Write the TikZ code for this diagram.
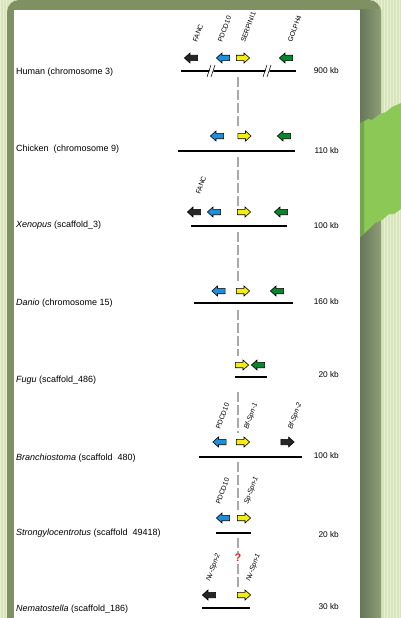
\documentclass[tikz,border=0pt]{standalone}
\usepackage{fontspec}
\setmainfont{Liberation Sans}
\usetikzlibrary{shapes.arrows}

\definecolor{paper}{HTML}{D8E5BB}
\definecolor{weave}{HTML}{E7F0D4}
\definecolor{olive}{HTML}{7F9163}
\definecolor{oliveDark}{HTML}{66775A}
\definecolor{oliveLight}{HTML}{8E9E77}
\definecolor{leaf}{HTML}{8CC856}
\definecolor{leafDark}{HTML}{72A946}
\definecolor{gBlue}{HTML}{1E8FDA}
\definecolor{gYellow}{HTML}{F4EE10}
\definecolor{gGreen}{HTML}{08862C}
\definecolor{gBlack}{HTML}{262626}
\definecolor{dashgray}{HTML}{A8A8A8}
\definecolor{qred}{HTML}{E02424}

\tikzset{
  gene/.style={single arrow, draw=black, line width=0.6pt, minimum height=13.2pt,
    inner xsep=0pt, inner ysep=2.4pt, single arrow head extend=2.3pt,
    single arrow tip angle=84},
  fwd/.style={gene, shape border rotate=0},
  rev/.style={gene, shape border rotate=180},
  species/.style={anchor=west, font=\fontsize{9}{10}\selectfont, inner sep=0pt},
  span/.style={anchor=east, font=\fontsize{8.3}{10}\selectfont, inner sep=0pt},
  genename/.style={anchor=base west, rotate=70, font=\fontsize{6.9}{8}\selectfont, inner sep=0pt},
  chrom/.style={line width=2pt, black},
  syn/.style={dashgray, line width=1.2pt, dash pattern=on 10pt off 3pt},
}

\begin{document}
\begin{tikzpicture}[x=1pt,y=-1pt]
\useasboundingbox (0,0) rectangle (401,618);

% textured backdrop
\fill[paper] (0,0) rectangle (401,618);
\draw[weave, line width=0.7pt] (0,0) grid[step=3] (401,618);

% olive frame
\fill[olive, rounded corners=12pt] (7,0) rectangle (381,640);
\shade[left color=oliveDark, right color=oliveLight] (360,10) rectangle (381,618);

% green ribbon
\fill[leaf] (359,124) -- (368,119) -- (372,120) -- (380,114) -- (386,112) -- (392,107) -- (401,103)
  -- (401,209) -- (394,214) -- (389,214) -- (382,220) -- (375,223) -- (368,230) -- (359,238) -- cycle;
\fill[leafDark] (359,124) -- (364,121) -- (364,234) -- (359,238) -- cycle;

% white panel
\fill[white] (14,10) rectangle (360,618);

% ---------- conserved promoter axis ----------
\coordinate (t1) at (238,77);  \coordinate (u1) at (238,128);
\coordinate (t2) at (238,157); \coordinate (u2) at (238,206);
\coordinate (t3) at (238,232); \coordinate (u3) at (238,282);
\coordinate (t4) at (238,310); \coordinate (u4) at (238,356);
\coordinate (t5) at (238,392); \coordinate (u5) at (238,433);
\coordinate (t6) at (238,462); \coordinate (u6) at (238,510);
\coordinate (t7) at (238,538); \coordinate (u7) at (238,588);
\foreach \i in {1,...,7}{ \draw[syn] (t\i) -- (u\i); }

% ---------- Human ----------
\node[species] (sp1) at (16,72) {Human (chromosome 3)};
\node[span] (kb1) at (339,71) {900 kb};
\coordinate (l1a) at (181,71); \coordinate (l1b) at (296,71);
\draw[chrom] (l1a) -- (l1b);
\foreach \bx in {211,267}{
  \fill[white] (\bx-3,76) -- (\bx+1,76) -- (\bx+4,66) -- (\bx,66) -- cycle;
  \draw[black, line width=0.5pt] (\bx-4,77) -- (\bx,65) (\bx,77) -- (\bx+4,65);
}
\node[rev, fill=gBlack] (h1) at (192.5,58) {};
\node[rev, fill=gBlue] (h2) at (224.5,58) {};
\node[fwd, fill=gYellow] (h3) at (241.5,58) {};
\node[rev, fill=gGreen] (h4) at (287.5,58) {};
\node[genename] (n1) at (197,43) {FANC};
\node[genename] (n2) at (222,43) {PDCD10};
\node[genename] (n3) at (245,43) {SERPINI1};
\node[genename] (n4) at (292,43) {GOLPH4};

% ---------- Chicken ----------
\node[species] (sp2) at (16,149) {Chicken\ \ (chromosome 9)};
\node[span] (kb2) at (339,151) {110 kb};
\coordinate (l2a) at (178,151); \coordinate (l2b) at (295,151);
\draw[chrom] (l2a) -- (l2b);
\node[rev, fill=gBlue] (c2) at (218.5,136) {};
\node[fwd, fill=gYellow] (c3) at (243,136) {};
\node[rev, fill=gGreen] (c4) at (285.5,136) {};

% ---------- Xenopus ----------
\node[species] (sp3) at (16,225) {\textit{Xenopus} (scaffold\_3)};
\node[span] (kb3) at (339,226) {100 kb};
\coordinate (l3a) at (191,226); \coordinate (l3b) at (287,226);
\draw[chrom] (l3a) -- (l3b);
\node[rev, fill=gBlack] (x1) at (195.5,212) {};
\node[rev, fill=gBlue] (x2) at (215.5,212) {};
\node[fwd, fill=gYellow] (x3) at (242.5,212) {};
\node[rev, fill=gGreen] (x4) at (282.5,212) {};
\node[genename] (n5) at (200,195) {FANC};

% ---------- Danio ----------
\node[species] (sp4) at (16,303) {\textit{Danio} (chromosome 15)};
\node[span] (kb4) at (339,302) {160 kb};
\coordinate (l4a) at (194,303); \coordinate (l4b) at (293,303);
\draw[chrom] (l4a) -- (l4b);
\node[rev, fill=gBlue] (d2) at (220,291) {};
\node[fwd, fill=gYellow] (d3) at (241.5,291) {};
\node[rev, fill=gGreen] (d4) at (278.5,291) {};

% ---------- Fugu ----------
\node[species] (sp5) at (16,380) {\textit{Fugu} (scaffold\_486)};
\node[span] (kb5) at (339,375) {20 kb};
\coordinate (l5a) at (235,377); \coordinate (l5b) at (267,377);
\draw[chrom] (l5a) -- (l5b);
\node[fwd, fill=gYellow] (f3) at (240.5,365) {};
\node[rev, fill=gGreen] (f4) at (259.5,365) {};

% ---------- Branchiostoma ----------
\node[species] (sp6) at (16,458) {\textit{Branchiostoma} (scaffold\ \ 480)};
\node[span] (kb6) at (339,456) {100 kb};
\coordinate (l6a) at (199,457); \coordinate (l6b) at (302,457);
\draw[chrom] (l6a) -- (l6b);
\node[rev, fill=gBlue] (b2) at (221,442) {};
\node[fwd, fill=gYellow] (b3) at (241.5,442) {};
\node[fwd, fill=gBlack] (b5) at (286,442) {};
\node[genename] (n6) at (220,430) {PDCD10};
\node[genename] (n7) at (248,430) {\textit{Bf-Spn-1}};
\node[genename] (n8) at (292,430) {\textit{Bf-Spn-2}};

% ---------- Strongylocentrotus ----------
\node[species] (sp7) at (16,533) {\textit{Strongylocentrotus} (scaffold\ \ 49418)};
\node[span] (kb7) at (339,535) {20 kb};
\coordinate (l7a) at (216,533); \coordinate (l7b) at (251,533);
\draw[chrom] (l7a) -- (l7b);
\node[rev, fill=gBlue] (s2) at (224.5,518) {};
\node[fwd, fill=gYellow] (s3) at (242.5,518) {};
\node[genename] (n9) at (220,505) {PDCD10};
\node[genename] (n10) at (248,505) {\textit{Sp-Spn-1}};

% ---------- Nematostella ----------
\node[species] (sp8) at (16,609) {\textit{Nematostella} (scaffold\_186)};
\node[span] (kb8) at (339,607) {30 kb};
\coordinate (l8a) at (202,608); \coordinate (l8b) at (250,608);
\draw[chrom] (l8a) -- (l8b);
\node[rev, fill=gBlack] (e1) at (210.5,595) {};
\node[fwd, fill=gYellow] (e3) at (242.5,595) {};
\node[genename] (n11) at (210,582) {\textit{Nv-Spn-2}};
\node[genename] (n12) at (250,582) {\textit{Nv-Spn-1}};

\node[fill=white, inner sep=0.6pt, text=qred, font=\fontsize{11}{12}\selectfont\bfseries] (q) at (238,558) {?};
\end{tikzpicture}
\end{document}
